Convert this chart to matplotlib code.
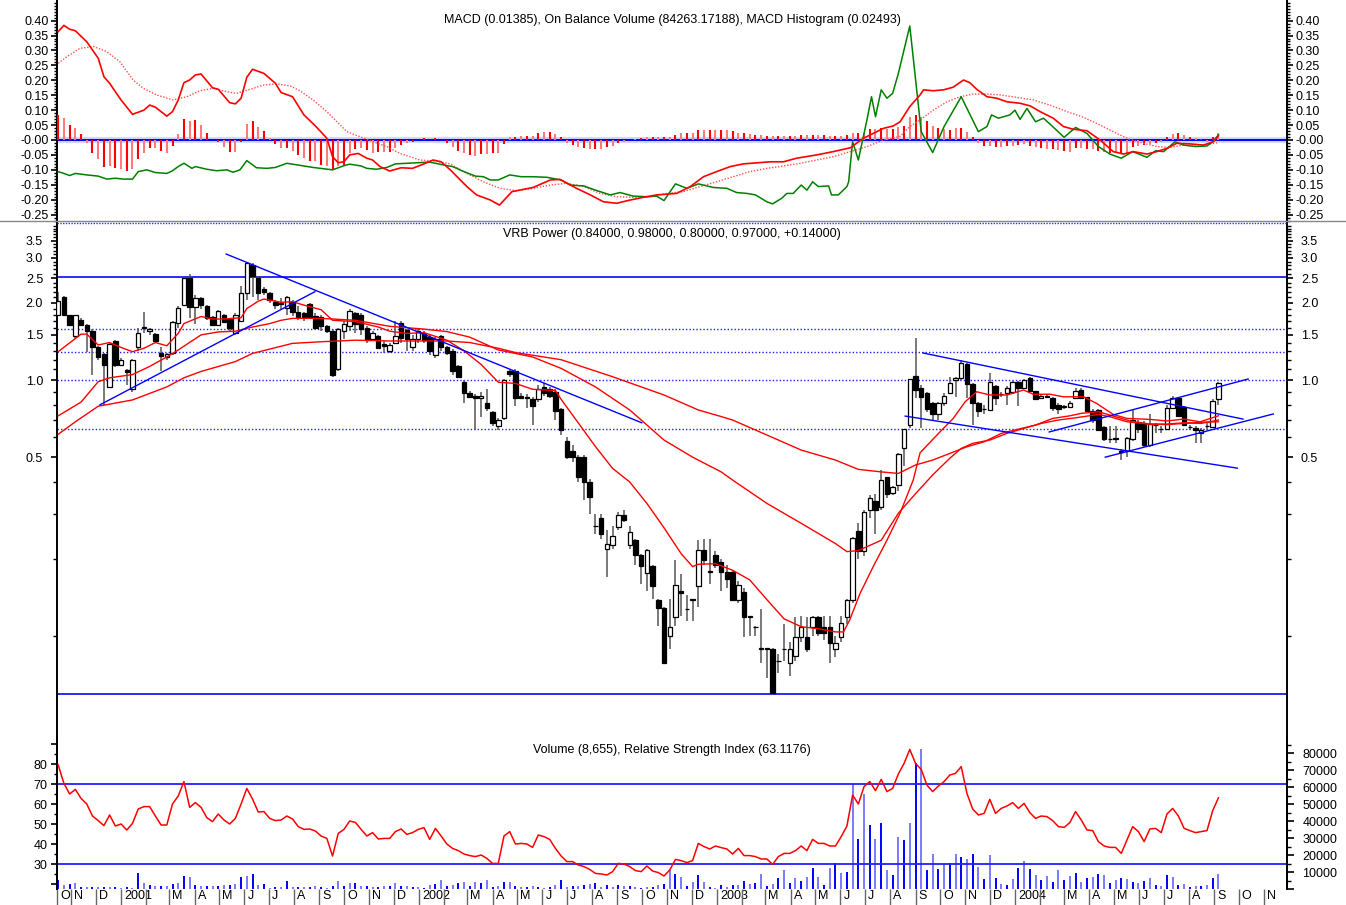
import numpy as np
import pandas as pd
import matplotlib
matplotlib.use("Agg")
import matplotlib.pyplot as plt
import matplotlib.transforms as mtransforms
from matplotlib.lines import Line2D
from matplotlib.ticker import FixedLocator, MultipleLocator, NullFormatter, FormatStrFormatter

plt.rcParams['font.family'] = ['Liberation Sans', 'DejaVu Sans']

# --- weekly data, first bar is the week of 16 Oct 2000 ---
first_week = pd.Timestamp('2000-10-16')

opens = [1.80, 2.10, 1.80, 1.49, 1.72, 1.64, 1.55, 1.34, 1.26, 0.94, 1.42, 1.14, 1.09, 0.92, 1.35, 1.59, 1.55, 1.51, 1.27, 1.23,
         1.27, 1.67, 1.96, 2.50, 1.93, 2.08, 1.95, 1.76, 1.64, 1.80, 1.73, 1.53, 1.70, 2.18, 2.80, 2.50, 2.27, 2.18, 2.02, 1.98,
         1.91, 2.02, 1.85, 1.82, 1.98, 1.78, 1.76, 1.62, 1.55, 1.10, 1.55, 1.62, 1.82, 1.80, 1.60, 1.45, 1.48, 1.38, 1.30, 1.40,
         1.67, 1.57, 1.34, 1.44, 1.52, 1.47, 1.25, 1.48, 1.34, 1.30, 1.13, 0.98, 0.89, 0.87, 0.85, 0.81, 0.75, 0.66, 0.71, 1.08,
         1.08, 0.87, 0.86, 0.84, 0.84, 0.94, 0.92, 0.90, 0.77, 0.58, 0.53, 0.50, 0.50, 0.40, 0.27, 0.29, 0.22, 0.227, 0.267, 0.297,
         0.227, 0.237, 0.207, 0.176, 0.188, 0.139, 0.129, 0.100, 0.119, 0.150, 0.128, 0.138, 0.157, 0.218, 0.180, 0.207, 0.195, 0.178, 0.178, 0.139,
         0.149, 0.120, 0.109, 0.090, 0.090, 0.089, 0.080, 0.089, 0.079, 0.084, 0.099, 0.099, 0.109, 0.119, 0.109, 0.109, 0.089, 0.099, 0.119, 0.139,
         0.258, 0.216, 0.310, 0.337, 0.320, 0.417, 0.362, 0.388, 0.543, 0.670, 1.04, 0.93, 0.89, 0.81, 0.74, 0.81, 0.89, 1.00, 1.02, 1.15,
         0.965, 0.815, 0.77, 0.764, 0.95, 0.88, 0.89, 0.90, 0.985, 0.93, 1.02, 0.905, 0.85, 0.86, 0.85, 0.80, 0.785, 0.787, 0.847, 0.914,
         0.855, 0.76, 0.764, 0.657, 0.59, 0.595, 0.53, 0.527, 0.59, 0.687, 0.677, 0.557, 0.665, 0.642, 0.643, 0.78, 0.848, 0.787, 0.657, 0.648,
         0.62, 0.66, 0.657, 0.84]
highs = [2.20, 2.12, 1.80, 1.80, 1.74, 1.66, 1.58, 1.36, 1.28, 1.40, 1.43, 1.22, 1.10, 1.21, 1.60, 1.84, 1.60, 1.52, 1.35, 1.28,
         1.70, 1.95, 2.52, 2.59, 2.15, 2.10, 1.96, 1.78, 1.87, 1.81, 1.75, 1.82, 2.33, 2.88, 2.85, 2.55, 2.30, 2.20, 2.05, 2.08,
         2.12, 2.05, 1.95, 1.85, 2.00, 1.82, 1.80, 1.64, 1.58, 1.60, 1.70, 1.90, 1.85, 1.83, 1.62, 1.55, 1.50, 1.42, 1.40, 1.70,
         1.70, 1.58, 1.50, 1.58, 1.55, 1.50, 1.47, 1.50, 1.36, 1.32, 1.14, 1.00, 0.91, 0.88, 0.90, 0.92, 0.76, 0.71, 1.01, 1.10,
         1.10, 0.89, 0.88, 0.86, 0.96, 0.97, 0.94, 0.92, 0.78, 0.60, 0.56, 0.51, 0.51, 0.41, 0.30, 0.30, 0.26, 0.27, 0.306, 0.31,
         0.27, 0.24, 0.21, 0.22, 0.19, 0.14, 0.13, 0.14, 0.198, 0.175, 0.145, 0.14, 0.237, 0.24, 0.24, 0.215, 0.20, 0.19, 0.18, 0.165,
         0.155, 0.12, 0.11, 0.128, 0.09, 0.09, 0.085, 0.112, 0.095, 0.119, 0.12, 0.119, 0.12, 0.12, 0.12, 0.12, 0.10, 0.12, 0.14, 0.245,
         0.277, 0.31, 0.356, 0.36, 0.445, 0.42, 0.385, 0.52, 0.645, 1.01, 1.46, 0.96, 0.90, 0.82, 0.82, 0.89, 1.03, 1.03, 1.20, 1.17,
         0.97, 0.82, 0.80, 1.065, 0.96, 0.90, 0.95, 0.99, 0.99, 1.01, 1.03, 0.91, 0.88, 0.88, 0.86, 0.81, 0.80, 0.83, 0.93, 0.93,
         0.86, 0.77, 0.77, 0.66, 0.66, 0.66, 0.54, 0.60, 0.764, 0.70, 0.69, 0.74, 0.68, 0.66, 0.80, 0.87, 0.86, 0.79, 0.67, 0.66,
         0.65, 0.68, 0.84, 0.98]
lows = [1.78, 1.78, 1.63, 1.45, 1.62, 1.29, 1.05, 1.20, 0.80, 0.93, 1.12, 1.13, 0.96, 0.90, 1.30, 1.52, 1.50, 1.40, 1.08, 1.20,
        1.25, 1.60, 1.94, 1.75, 1.65, 1.90, 1.72, 1.62, 1.62, 1.68, 1.55, 1.50, 1.68, 2.05, 2.11, 2.05, 2.15, 2.00, 1.90, 1.90,
        1.80, 1.78, 1.72, 1.70, 1.74, 1.58, 1.55, 1.52, 1.03, 1.08, 1.45, 1.55, 1.52, 1.50, 1.40, 1.42, 1.32, 1.28, 1.27, 1.38,
        1.40, 1.30, 1.30, 1.40, 1.40, 1.25, 1.22, 1.30, 1.25, 1.05, 1.02, 0.81, 0.85, 0.64, 0.72, 0.76, 0.66, 0.64, 0.70, 1.03,
        0.79, 0.84, 0.78, 0.67, 0.82, 0.87, 0.85, 0.70, 0.61, 0.49, 0.48, 0.40, 0.34, 0.30, 0.25, 0.24, 0.17, 0.22, 0.26, 0.28,
        0.22, 0.19, 0.16, 0.15, 0.14, 0.11, 0.078, 0.089, 0.11, 0.12, 0.115, 0.115, 0.13, 0.19, 0.16, 0.185, 0.15, 0.155, 0.137, 0.135,
        0.099, 0.10, 0.10, 0.079, 0.069, 0.059, 0.072, 0.08, 0.07, 0.08, 0.095, 0.087, 0.10, 0.10, 0.097, 0.079, 0.083, 0.095, 0.112, 0.135,
        0.20, 0.205, 0.29, 0.25, 0.31, 0.345, 0.355, 0.37, 0.46, 0.65, 0.85, 0.65, 0.75, 0.70, 0.70, 0.79, 0.88, 0.86, 1.00, 0.85,
        0.667, 0.72, 0.74, 0.76, 0.80, 0.86, 0.80, 0.88, 0.79, 0.92, 0.90, 0.84, 0.84, 0.85, 0.76, 0.74, 0.77, 0.78, 0.84, 0.84,
        0.75, 0.68, 0.63, 0.58, 0.57, 0.57, 0.487, 0.50, 0.58, 0.62, 0.55, 0.55, 0.62, 0.62, 0.64, 0.77, 0.72, 0.665, 0.64, 0.57,
        0.57, 0.64, 0.65, 0.80]
closes = [2.03, 1.79, 1.64, 1.79, 1.64, 1.55, 1.34, 1.23, 1.14, 1.38, 1.14, 1.20, 1.07, 1.20, 1.53, 1.61, 1.58, 1.42, 1.24, 1.26,
          1.68, 1.91, 2.50, 1.93, 2.08, 1.96, 1.75, 1.64, 1.86, 1.69, 1.60, 1.80, 2.18, 2.86, 2.55, 2.18, 2.20, 2.05, 1.96, 2.00,
          2.10, 1.85, 1.76, 1.76, 1.76, 1.60, 1.62, 1.55, 1.05, 1.58, 1.66, 1.86, 1.65, 1.58, 1.43, 1.53, 1.33, 1.36, 1.37, 1.49,
          1.46, 1.45, 1.44, 1.55, 1.43, 1.30, 1.45, 1.34, 1.27, 1.08, 1.03, 0.89, 0.86, 0.85, 0.87, 0.78, 0.68, 0.70, 1.00, 1.06,
          0.85, 0.85, 0.85, 0.79, 0.92, 0.89, 0.87, 0.76, 0.64, 0.50, 0.50, 0.42, 0.40, 0.35, 0.27, 0.25, 0.23, 0.247, 0.297, 0.285,
          0.255, 0.207, 0.188, 0.218, 0.157, 0.129, 0.079, 0.109, 0.158, 0.148, 0.128, 0.140, 0.218, 0.198, 0.178, 0.190, 0.178, 0.167, 0.139, 0.158,
          0.119, 0.119, 0.109, 0.089, 0.089, 0.060, 0.080, 0.089, 0.089, 0.099, 0.109, 0.089, 0.119, 0.103, 0.103, 0.094, 0.094, 0.113, 0.139, 0.242,
          0.216, 0.305, 0.345, 0.310, 0.407, 0.360, 0.384, 0.513, 0.642, 1.006, 0.914, 0.86, 0.77, 0.74, 0.81, 0.87, 0.97, 1.02, 1.17, 0.965,
          0.815, 0.755, 0.768, 0.98, 0.85, 0.88, 0.93, 0.98, 0.93, 1.00, 0.905, 0.845, 0.87, 0.865, 0.78, 0.77, 0.79, 0.815, 0.908, 0.847,
          0.76, 0.70, 0.64, 0.59, 0.59, 0.59, 0.525, 0.595, 0.70, 0.643, 0.557, 0.673, 0.667, 0.642, 0.78, 0.848, 0.725, 0.67, 0.655, 0.64,
          0.64, 0.661, 0.83, 0.97]

volume = [5357, 2579, 2976, 3373, 992, 1389, 992, 1389, 1389, 1389, 992, 397, 992, 595, 9325, 3373, 2381, 1786, 1786, 1786,
          2976, 3373, 7540, 7341, 2381, 1786, 1786, 1786, 1786, 2381, 2381, 2976, 6944, 7540, 8928, 2381, 2976, 595, 1389, 1389,
          4563, 992, 992, 992, 992, 1984, 992, 397, 1984, 4563, 1587, 3373, 3373, 1587, 1984, 1389, 992, 1587, 1984, 3373,
          1587, 1587, 992, 992, 397, 2579, 2976, 5357, 1984, 2579, 3373, 3968, 1984, 3968, 3373, 5357, 992, 1587, 3968, 3968,
          1984, 992, 992, 1984, 1389, 397, 1389, 2579, 5357, 1389, 1587, 1984, 2579, 2976, 3373, 992, 2579, 992, 2579, 1984,
          1587, 992, 595, 1389, 992, 2579, 2976, 11309, 8928, 7341, 1984, 3968, 8333, 3968, 1389, 595, 2579, 992, 2579, 2579,
          4563, 2976, 3373, 8928, 1984, 2976, 6349, 10912, 3373, 6349, 4563, 7341, 12499, 7341, 2381, 12499, 15277, 9325, 9920, 61901,
          29760, 56147, 37696, 29363, 39085, 11309, 8333, 30355, 28768, 39085, 74400, 82336, 11309, 20435, 11904, 14880, 15475, 20435, 18848, 17856,
          20435, 12896, 5952, 19840, 6349, 2976, 2579, 5952, 12499, 16269, 11904, 8333, 5357, 7539, 4365, 11309, 5357, 7539, 9325, 4365,
          6349, 6944, 8928, 8333, 3373, 5357, 6349, 5952, 3968, 3373, 4563, 6349, 2579, 1587, 8333, 7341, 2579, 2976, 1389, 1984,
          1587, 2579, 6349, 8655]

rsi = [79.5, 70.3, 65.0, 67.3, 62.8, 60.0, 54.0, 51.7, 49.2, 54.5, 49.0, 50.0, 47.0, 50.3, 57.5, 58.7, 58.7, 54.0, 49.5, 49.5,
       60.0, 64.0, 71.2, 58.3, 60.7, 58.3, 53.2, 51.2, 55.0, 52.0, 50.0, 52.8, 60.0, 67.8, 62.5, 56.0, 56.2, 52.8, 51.7, 52.0,
       54.0, 52.5, 48.7, 47.3, 47.5, 46.5, 44.0, 42.8, 34.0, 45.3, 47.3, 51.5, 50.8, 47.3, 44.0, 45.7, 42.5, 42.8, 42.8, 46.2,
       47.5, 44.8, 45.7, 47.3, 48.2, 42.3, 47.8, 44.0, 40.0, 37.8, 36.7, 35.0, 34.2, 33.7, 34.5, 32.8, 30.3, 30.3, 44.0, 46.2,
       40.0, 40.3, 40.0, 38.3, 44.5, 43.7, 42.3, 37.8, 34.0, 31.2, 31.2, 29.5, 28.7, 27.3, 25.3, 25.0, 24.5, 26.2, 30.3, 30.0,
       28.7, 26.7, 26.2, 29.0, 26.5, 25.7, 24.0, 27.0, 32.3, 31.7, 30.7, 31.7, 40.3, 38.7, 37.5, 39.0, 38.2, 37.5, 35.0, 37.8,
       34.2, 34.2, 33.7, 32.5, 32.5, 29.8, 33.7, 35.3, 35.3, 36.7, 39.0, 36.7, 42.3, 40.3, 40.3, 39.0, 39.0, 43.7, 49.0, 64.5,
       60.0, 68.7, 71.2, 66.7, 72.3, 66.2, 67.8, 75.0, 80.3, 87.3, 80.3, 77.3, 69.5, 66.2, 69.0, 71.2, 74.5, 75.3, 78.7, 65.3,
       57.5, 54.5, 55.3, 62.3, 55.3, 57.8, 59.0, 60.7, 57.8, 60.3, 55.7, 52.8, 54.0, 53.7, 51.7, 48.7, 48.3, 50.7, 56.2, 52.0,
       47.0, 46.7, 41.2, 39.0, 38.3, 38.3, 35.3, 42.0, 48.7, 46.2, 41.2, 47.5, 47.8, 45.7, 55.0, 57.8, 54.0, 47.8, 46.7, 45.7,
       46.2, 46.7, 56.7, 63.1]

macd_hist = [0.084, 0.073, 0.049, 0.040, 0.020, -0.011, -0.045, -0.065, -0.089, -0.087, -0.095, -0.098, -0.103, -0.098, -0.065,
             -0.045, -0.026, -0.026, -0.036, -0.045, -0.021, 0.020, 0.069, 0.062, 0.067, 0.051, 0.025, 0.0, -0.008, -0.022,
             -0.039, -0.039, -0.008, 0.053, 0.065, 0.045, 0.030, 0.008, -0.014, -0.028, -0.028, -0.036, -0.050, -0.061, -0.070,
             -0.072, -0.084, -0.087, -0.101, -0.087, -0.084, -0.045, -0.031, -0.028, -0.034, -0.045, -0.041, -0.041, -0.041, -0.028,
             -0.017, -0.011, -0.008, 0.0, 0.008, 0.0, 0.008, 0.0, -0.011, -0.022, -0.036, -0.045, -0.050, -0.054, -0.047,
             -0.047, -0.045, -0.045, -0.013, 0.009, 0.011, 0.013, 0.013, 0.013, 0.025, 0.028, 0.028, 0.020, 0.009, -0.009,
             -0.017, -0.022, -0.028, -0.031, -0.031, -0.031, -0.025, -0.020, -0.011, -0.006, 0.0, 0.002, 0.006, 0.009, 0.009,
             0.009, 0.009, 0.011, 0.017, 0.022, 0.022, 0.025, 0.034, 0.034, 0.034, 0.034, 0.034, 0.034, 0.031, 0.025,
             0.022, 0.020, 0.017, 0.017, 0.013, 0.013, 0.013, 0.013, 0.013, 0.013, 0.017, 0.017, 0.017, 0.017, 0.017,
             0.013, 0.013, 0.013, 0.017, 0.025, 0.025, 0.025, 0.036, 0.036, 0.039, 0.036, 0.036, 0.042, 0.047, 0.076,
             0.084, 0.078, 0.065, 0.047, 0.039, 0.036, 0.034, 0.039, 0.039, 0.028, 0.011, -0.011, -0.020, -0.020, -0.025,
             -0.022, -0.020, -0.020, -0.017, -0.013, -0.020, -0.025, -0.028, -0.031, -0.031, -0.034, -0.036, -0.039, -0.028, -0.028,
             -0.031, -0.031, -0.036, -0.039, -0.045, -0.045, -0.045, -0.042, -0.025, -0.020, -0.017, -0.013, -0.009, -0.006, 0.009,
             0.020, 0.022, 0.017, 0.011, 0.006, 0.002, -0.006, 0.009, 0.025]

# smooth lines, read at selected weeks (week number from first bar)
macd_wk = [0, 1, 2, 3, 5, 7, 8, 9, 11, 13, 15, 16, 17, 19, 20, 21, 22, 23, 24, 25, 27, 28, 30, 31, 32, 33, 34, 36, 38, 39,
           41, 43, 45, 47, 48, 49, 50, 51, 52.5, 54, 55, 56.3, 58, 60, 62, 64, 65.6, 67, 68.6, 71.5, 73.2, 75.6, 77.2, 79.4, 83.1,
           86.1, 87.8, 90.7, 93.1, 95.4, 97.7, 100.1, 102.4, 104.7, 108.2, 110.6, 112.9, 115.2, 117.6, 119.9, 124.6, 126.9, 129.2,
           132.7, 135.6, 138.6, 140.9, 142.6, 144.4, 146.1, 147.3, 149, 150.8, 151.4, 153.1, 154.9, 156.6, 158.4, 159.5, 160.7,
           162.5, 164.2, 166, 168.3, 170.1, 171.8, 174.1, 175.9, 177.6, 180, 182.3, 184.6, 186.4, 188.1, 190.5, 192.2, 194, 195.7,
           198, 200.4, 202.1, 203]
macd_val = [0.363, 0.384, 0.371, 0.366, 0.329, 0.274, 0.212, 0.190, 0.134, 0.086, 0.100, 0.117, 0.110, 0.080, 0.095, 0.134,
            0.192, 0.201, 0.218, 0.221, 0.175, 0.170, 0.125, 0.121, 0.140, 0.210, 0.237, 0.223, 0.190, 0.159, 0.145, 0.084,
            0.047, 0.006, -0.056, -0.076, -0.073, -0.050, -0.045, -0.061, -0.067, -0.089, -0.104, -0.093, -0.095, -0.080, -0.067,
            -0.073, -0.100, -0.156, -0.184, -0.201, -0.218, -0.173, -0.159, -0.134, -0.132, -0.162, -0.184, -0.207, -0.212,
            -0.201, -0.192, -0.184, -0.179, -0.156, -0.123, -0.106, -0.089, -0.080, -0.073, -0.073, -0.061, -0.050, -0.039,
            -0.026, 0.006, 0.022, 0.039, 0.047, 0.061, 0.112, 0.151, 0.168, 0.165, 0.168, 0.177, 0.201, 0.192, 0.170, 0.145,
            0.140, 0.128, 0.123, 0.114, 0.095, 0.073, 0.045, 0.036, 0.031, 0.000, -0.039, -0.047, -0.039, -0.047, -0.039,
            -0.028, -0.011, -0.013, -0.017, -0.006, 0.014]

signal_wk = [0, 1.5, 3.8, 6.2, 8.5, 10.8, 13.1, 14.9, 17.2, 20.1, 22.5, 24.8, 27.1, 29.5, 31.2, 33.6, 35.9, 38.2, 40.6, 42.3,
             44.6, 47, 50.5, 52.8, 55.1, 57.5, 59.8, 63.3, 65.6, 68.6, 71.5, 74.4, 77.3, 80.2, 83.1, 86.1, 89, 91.9, 94.8, 97.7,
             100.6, 103.6, 106.5, 109.4, 112.3, 115.2, 118.1, 121, 124, 126.9, 129.8, 132.7, 135.6, 138.6, 141.5, 144.4, 147.3,
             149, 150.8, 153.1, 155.5, 157.8, 160.1, 162.5, 164.8, 167.7, 170.6, 173.5, 176.5, 179.4, 182.3, 185.2, 187.5, 189.9,
             192.2, 194.5, 196.9, 199.8, 203]
signal_val = [0.257, 0.279, 0.307, 0.313, 0.296, 0.262, 0.201, 0.173, 0.151, 0.134, 0.145, 0.165, 0.173, 0.162, 0.156, 0.170,
              0.184, 0.188, 0.181, 0.165, 0.134, 0.095, 0.028, 0.011, -0.006, -0.022, -0.045, -0.067, -0.070, -0.080, -0.112,
              -0.140, -0.162, -0.170, -0.162, -0.151, -0.145, -0.156, -0.179, -0.190, -0.192, -0.190, -0.179, -0.173, -0.156,
              -0.140, -0.123, -0.106, -0.095, -0.087, -0.078, -0.067, -0.056, -0.039, -0.022, 0.000, 0.012, 0.045, 0.067, 0.100,
              0.128, 0.145, 0.154, 0.154, 0.151, 0.143, 0.134, 0.117, 0.095, 0.076, 0.050, 0.022, 0.002, -0.011, -0.022, -0.025,
              -0.017, -0.017, -0.009]

# on balance volume, drawn on the macd scale
obv_wk = [0, 1, 2, 3, 5, 7, 8.5, 10, 11.4, 13, 14, 15.5, 17, 19, 20, 21, 22, 23.4, 24, 26, 27.7, 29.5, 30.6, 31.8, 33, 34.7,
          36.5, 38, 40, 42, 44.6, 48, 50, 51, 53, 54, 55.7, 57.5, 59, 61, 63, 65, 66, 68, 69, 71, 73, 74.4, 75.6, 77, 79, 81,
          83, 85.5, 88, 89.6, 92, 94, 96.6, 98.3, 100.6, 103, 104.7, 106, 108, 110, 112, 114.6, 117, 118.7, 120.5, 122, 124,
          125, 126.6, 127.5, 128.6, 130, 131, 132, 133, 134.8, 135.3, 136.5, 138, 138.3, 139, 140, 141.5, 142.3, 143, 144, 145,
          146, 147, 149, 151, 153, 155, 158, 161, 162.5, 163.3, 164.5, 166.5, 167.4, 168.3, 169.5, 171, 172.4, 174, 176,
          178, 180, 182, 184, 186, 188, 190.5, 192, 193.4, 195.4, 196.9, 199, 201, 202, 203]
obv_val = [-0.106, -0.112, -0.119, -0.112, -0.117, -0.121, -0.131, -0.128, -0.131, -0.131, -0.106, -0.100, -0.109, -0.112,
           -0.103, -0.089, -0.078, -0.095, -0.089, -0.098, -0.103, -0.100, -0.108, -0.100, -0.069, -0.093, -0.095, -0.092,
           -0.078, -0.084, -0.092, -0.100, -0.086, -0.081, -0.087, -0.095, -0.098, -0.092, -0.080, -0.078, -0.076, -0.074,
           -0.078, -0.086, -0.089, -0.106, -0.121, -0.123, -0.134, -0.134, -0.117, -0.123, -0.123, -0.125, -0.134, -0.151,
           -0.154, -0.168, -0.184, -0.176, -0.188, -0.190, -0.188, -0.203, -0.147, -0.162, -0.147, -0.159, -0.162, -0.176,
           -0.179, -0.184, -0.207, -0.214, -0.195, -0.179, -0.179, -0.151, -0.168, -0.140, -0.156, -0.154, -0.184, -0.184,
           -0.156, -0.140, -0.006, -0.067, 0.067, 0.145, 0.078, 0.168, 0.140, 0.156, 0.223, 0.382, 0.028, -0.042, 0.045,
           0.145, 0.028, 0.045, 0.084, 0.073, 0.084, 0.100, 0.069, 0.106, 0.061, 0.073, 0.045, 0.009, 0.042, 0.022, -0.022,
           -0.047, -0.061, -0.039, -0.058, -0.036, -0.039, -0.006, -0.017, -0.022, -0.020, -0.006, 0.017]

# moving averages on the price panel
ma_fast_wk = [0, 4, 5, 7, 9, 11, 13, 15, 17, 19, 21, 22, 25, 27, 29, 32, 33, 35, 36, 39, 41, 43, 46, 48, 52, 56, 58, 61, 64,
              66, 68, 71, 74, 77, 80, 83, 87, 88, 91, 94, 97, 100, 103, 106, 109, 111, 112, 115, 118, 121, 124, 127, 130, 133,
              136, 137.4, 138.5, 140.3, 142.6, 145, 147.3, 149.6, 150.8, 154.3, 156.6, 158.7, 160.7, 163, 166, 168.9, 170.6,
              173.5, 175.9, 179.4, 181.7, 184.6, 187, 191, 194, 196.9, 199.8, 203]
ma_fast = [1.29, 1.51, 1.51, 1.37, 1.40, 1.34, 1.29, 1.33, 1.40, 1.36, 1.52, 1.66, 1.77, 1.73, 1.73, 1.75, 1.90, 2.03, 2.07,
           2.01, 2.02, 1.96, 1.88, 1.71, 1.69, 1.61, 1.55, 1.52, 1.53, 1.48, 1.43, 1.30, 1.15, 0.98, 0.97, 0.92, 0.91, 0.84,
           0.68, 0.55, 0.452, 0.40, 0.33, 0.265, 0.21, 0.187, 0.191, 0.192, 0.181, 0.166, 0.139, 0.117, 0.109, 0.107, 0.104,
           0.104, 0.116, 0.147, 0.187, 0.237, 0.302, 0.407, 0.52, 0.628, 0.708, 0.823, 0.90, 0.874, 0.874, 0.914, 0.88, 0.88,
           0.86, 0.86, 0.81, 0.734, 0.708, 0.702, 0.692, 0.704, 0.687, 0.725]
ma_mid_wk = [0, 4, 7, 9, 13, 16, 19, 21, 25, 28, 31, 34, 37, 39, 41, 46, 52, 58, 64, 68, 72, 77, 83, 88, 94, 100, 106, 111,
             116, 118, 124, 130, 136, 138, 140, 144, 147, 150, 153, 156, 158, 160, 163, 166, 169, 172, 175, 178, 182, 184,
             187, 191, 194, 197, 200, 203]
ma_mid = [0.725, 0.82, 0.985, 1.02, 1.05, 1.13, 1.23, 1.31, 1.50, 1.54, 1.55, 1.61, 1.66, 1.71, 1.74, 1.74, 1.71, 1.62, 1.58,
          1.545, 1.47, 1.31, 1.23, 1.11, 0.94, 0.764, 0.583, 0.50, 0.438, 0.407, 0.33, 0.276, 0.23, 0.214, 0.216, 0.237, 0.302,
          0.36, 0.426, 0.495, 0.541, 0.566, 0.583, 0.619, 0.648, 0.677, 0.698, 0.712, 0.734, 0.719, 0.687, 0.673, 0.673, 0.681,
          0.677, 0.698]
ma_slow_wk = [0, 3, 7, 13, 19, 22, 25, 31, 34, 37, 41, 46, 52, 58, 64, 68, 72, 77, 80, 88, 97, 106, 112, 116, 118, 124, 130,
              136, 140, 144, 147, 150, 153, 156, 159, 162, 165, 168, 171, 174, 177, 179, 182, 185, 188, 191, 194, 197, 200, 203]
ma_slow = [0.614, 0.687, 0.79, 0.836, 0.94, 1.02, 1.08, 1.18, 1.27, 1.32, 1.39, 1.41, 1.43, 1.42, 1.42, 1.42, 1.40, 1.33, 1.28,
           1.20, 1.03, 0.874, 0.764, 0.72, 0.698, 0.61, 0.533, 0.487, 0.448, 0.438, 0.432, 0.466, 0.487, 0.517, 0.549, 0.574,
           0.619, 0.643, 0.667, 0.708, 0.725, 0.741, 0.752, 0.719, 0.687, 0.673, 0.67, 0.677, 0.684, 0.687]

# drawn trend lines: (week, price) end points
trend_lines = [
    ([7.3, 44.9], [0.80, 2.21]),
    ([29.4, 102.1], [3.10, 0.681]),
    ([151.3, 207.3], [1.275, 0.704]),
    ([148.2, 206.3], [0.723, 0.453]),
    ([173.4, 208.2], [0.627, 1.009]),
    ([183.2, 212.6], [0.50, 0.737]),
]
solid_levels = [2.53, 0.0594]
dotted_levels = [1.58, 1.29, 1.0, 0.642]

n = len(closes)
wk = np.arange(n)
o, h, l, c = map(np.array, (opens, highs, lows, closes))

# --- figure layout (pixel based to follow the reference) ---
W, H = 1346, 905
fig = plt.figure(figsize=(W / 100, H / 100), dpi=100)
left, width = 57 / W, 1230 / W
ax_macd = fig.add_axes([left, 1 - 222.5 / H, width, 222.5 / H])
ax_price = fig.add_axes([left, 1 - 738 / H, width, (738 - 222.5) / H])
ax_rsi = fig.add_axes([left, 1 - 889 / H, width, (889 - 738) / H])
ax_vol = ax_rsi.twinx()

xmin, xmax = -0.21, 215.0
for ax in (ax_macd, ax_price, ax_rsi, ax_vol):
    ax.set_xlim(xmin, xmax)
    ax.spines['top'].set_visible(False)
    ax.spines['bottom'].set_visible(False)
    ax.spines['left'].set_linewidth(1.4)
    ax.spines['right'].set_linewidth(1.4)
    ax.tick_params(axis='y', which='both', labelsize=9, colors='black')
    ax.set_facecolor('none')

alt_red = ['#ff0000', '#ff7a7a']
alt_blue = ['#0000ff', '#7a7aff']

# --- MACD panel ---
ax_macd.axhline(0, color='#c8d2ff', lw=4, zorder=1)
ax_macd.axhline(0, color='#0000ff', lw=1.4, zorder=2)
ax_macd.vlines(wk, 0, macd_hist, colors=[alt_red[i % 2] for i in range(n)], lw=1.5, zorder=3)
ax_macd.plot(signal_wk, signal_val, color='#ff5050', lw=1.0, ls=(0, (1, 1.2)), zorder=4)
ax_macd.plot(obv_wk, obv_val, color='#008000', lw=1.1, zorder=5)
ax_macd.plot(macd_wk, macd_val, color='#ff0000', lw=1.2, zorder=6)
ax_macd.set_ylim(-0.2764, 0.469)
ax_macd.yaxis.set_major_locator(FixedLocator(np.round(np.arange(-0.25, 0.401, 0.05), 2)))
ax_macd.yaxis.set_minor_locator(MultipleLocator(0.01))
ax_macd.yaxis.set_major_formatter(FormatStrFormatter('%.2f'))
ax_macd.tick_params(axis='y', which='both', left=True, right=True, labelleft=True, labelright=True)
ax_macd.tick_params(axis='y', which='major', length=4, width=1.2, pad=2)
ax_macd.tick_params(axis='y', which='major', labelright=True, pad=2)
ax_macd.tick_params(axis='y', which='minor', length=2.5, width=1.0)
ax_macd.set_xticks([])
ax_macd.text(0.5, 0.91, 'MACD (0.01385), On Balance Volume (84263.17188), MACD Histogram (0.02493)',
             transform=ax_macd.transAxes, ha='center', va='center', fontsize=9)

# --- price panel ---
ax_price.set_yscale('log')
ax_price.set_ylim(0.0401, 4.117)
for lev in solid_levels:
    ax_price.axhline(lev, color='#2a2aff', lw=1.4, zorder=1)
for lev in dotted_levels:
    ax_price.axhline(lev, color='#2020ff', lw=1.0, ls=(0, (1, 1.5)), zorder=1)

up = c >= o
ax_price.vlines(wk, l, h, colors='#555555', lw=1.1, zorder=2)
body_lo = np.minimum(o, c)
body_hi = np.maximum(o, c)
ax_price.bar(wk[up], body_hi[up] - body_lo[up], bottom=body_lo[up], width=0.78,
             color='white', edgecolor='black', linewidth=0.9, zorder=3)
ax_price.bar(wk[~up], body_hi[~up] - body_lo[~up], bottom=body_lo[~up], width=0.78,
             color='black', edgecolor='black', linewidth=0.9, zorder=3)

ax_price.plot(ma_slow_wk, ma_slow, color='#ff0000', lw=1.0, zorder=4)
ax_price.plot(ma_mid_wk, ma_mid, color='#ff0000', lw=1.0, zorder=4)
ax_price.plot(ma_fast_wk, ma_fast, color='#ff0000', lw=1.0, zorder=4)
for xs, ys in trend_lines:
    ax_price.plot(xs, ys, color='#0000ff', lw=1.0, zorder=5)

price_major = [0.5, 1.0, 1.5, 2.0, 2.5, 3.0, 3.5]
ax_price.yaxis.set_major_locator(FixedLocator(price_major))
ax_price.yaxis.set_major_formatter(FormatStrFormatter('%.1f'))
ax_price.yaxis.set_minor_locator(FixedLocator(np.round(np.arange(0.1, 4.05, 0.1), 1)))
ax_price.yaxis.set_minor_formatter(NullFormatter())
ax_price.tick_params(axis='y', which='both', left=True, right=True, labelleft=True, labelright=True)
ax_price.tick_params(axis='y', which='major', length=4, width=1.2, pad=6)
ax_price.tick_params(axis='y', which='minor', length=3, width=1.0)
for lbl in ax_price.get_yticklabels(which='major'):
    pass
ax_price.set_xticks([])
ax_price.text(0.5, 0.977, 'VRB Power (0.84000, 0.98000, 0.80000, 0.97000, +0.14000)',
              transform=ax_price.transAxes, ha='center', va='center', fontsize=9)

# --- RSI / volume panel ---
ax_rsi.set_ylim(17.5, 93)
ax_vol.set_ylim(0, 89000)
ax_vol.vlines(wk, 0, volume, colors=[alt_blue[i % 2] for i in range(n)], lw=1.4, zorder=2)
ax_rsi.axhline(70, color='#2020ff', lw=1.3, zorder=1)
ax_rsi.axhline(30, color='#2020ff', lw=1.3, zorder=1)
ax_vol.plot(wk, rsi, alpha=0)  # keep twin in sync
ax_rsi.plot(wk, rsi, color='#ff0000', lw=1.1, zorder=3)
ax_rsi.set_zorder(ax_vol.get_zorder() + 1)
ax_rsi.patch.set_visible(False)

ax_rsi.yaxis.set_major_locator(FixedLocator([20, 30, 40, 50, 60, 70, 80, 90]))
ax_rsi.yaxis.set_major_formatter(lambda v, pos: f'{v:.0f}' if 30 <= v <= 80 else '')
ax_rsi.yaxis.set_minor_locator(MultipleLocator(5))
ax_rsi.tick_params(axis='y', which='major', left=True, right=False, length=4, width=1.2, pad=3)
ax_rsi.tick_params(axis='y', which='minor', left=True, right=False, length=2.5, width=1.0)
ax_vol.yaxis.set_major_locator(FixedLocator(np.arange(0, 90001, 10000)))
ax_vol.yaxis.set_major_formatter(lambda v, pos: f'{v:.0f}' if 10000 <= v <= 80000 else '')
ax_vol.yaxis.set_minor_locator(MultipleLocator(5000))
ax_vol.tick_params(axis='y', which='major', length=5, width=1.2, pad=6)
ax_vol.tick_params(axis='y', which='minor', length=3, width=1.0)
ax_rsi.text(0.5, 0.92, 'Volume (8,655), Relative Strength Index (63.1176)',
            transform=ax_rsi.transAxes, ha='center', va='center', fontsize=9)

# month ticks on the shared time axis
months = pd.date_range('2000-11-01', '2004-11-01', freq='MS')
tick_pos = [xmin] + [(m - first_week).days / 7 for m in months]
tick_lab = ['O']
for m in months:
    if m.month == 1:
        tick_lab.append(str(m.year))
    elif m.month == 2:
        tick_lab.append('')
    else:
        tick_lab.append(m.strftime('%b')[0])
ax_vol.set_xticks([])
ax_rsi.set_xticks(tick_pos)
ax_rsi.set_xticklabels(tick_lab, fontsize=9, ha='left')
ax_rsi.tick_params(axis='x', which='major', length=11.5, width=1.0, color='#666666', pad=-10.5)
offset = mtransforms.ScaledTranslation(3 / 100, 0, fig.dpi_scale_trans)
for lbl in ax_rsi.xaxis.get_majorticklabels():
    lbl.set_transform(lbl.get_transform() + offset)

# separator between the macd panel and the price panel
fig.add_artist(Line2D([0, 1], [1 - 221.5 / H, 1 - 221.5 / H], color='#888888', lw=1.0))
fig.add_artist(Line2D([left, left + width], [1 - 223.3 / H, 1 - 223.3 / H], color='#3030ff', lw=1.0, ls=(0, (1, 1))))

fig.savefig('out.png', dpi=100)
